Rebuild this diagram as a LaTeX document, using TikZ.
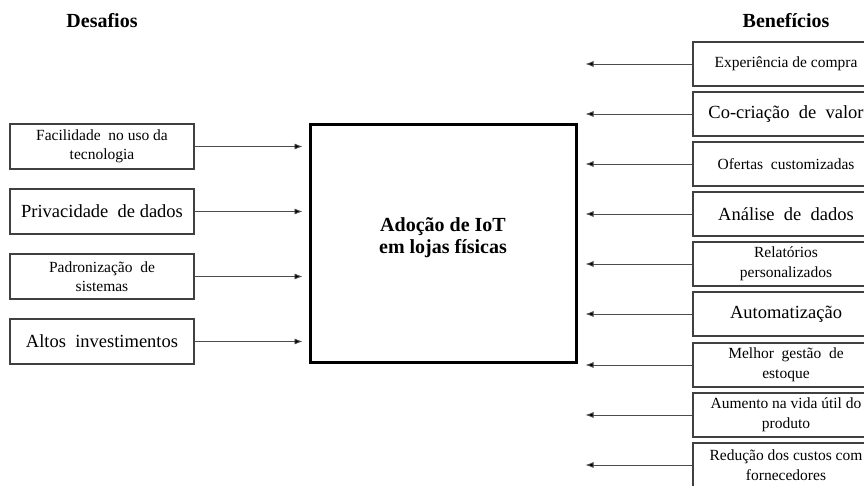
\documentclass[tikz,border=0pt]{standalone}
\usepackage{fontspec}
\setmainfont{Liberation Serif}
\usetikzlibrary{arrows.meta}

\begin{document}
\begin{tikzpicture}[x=1pt,y=-1pt,
    lbox/.style={draw=black!75,line width=1.1pt,minimum width=184pt,minimum height=45pt,align=center,inner sep=1pt},
    rbox/.style={draw=black!75,line width=1.1pt,minimum width=186pt,minimum height=44pt,align=center,inner sep=1pt},
    big/.style={font=\fontsize{18.5}{22}\selectfont},
    mid/.style={font=\fontsize{15.5}{19.5}\selectfont},
    small/.style={font=\fontsize{15.5}{19.5}\selectfont},
    head/.style={font=\fontsize{20}{24}\selectfont\bfseries},
    link/.style={draw=black!70,line width=0.8pt,-{Latex[length=8pt,width=6pt,fill=black]}}]

       \clip (0,0) rectangle (864,486);

       \node[head] (des) at (102, 21) {Desafios};
       \node[head] (ben) at (786, 21) {Benefícios};

       % bloco central
       \node[draw,line width=3pt,minimum width=266pt,minimum height=237pt,
             font=\fontsize{20}{22}\selectfont\bfseries,align=center] (iot) at (443, 243.5)
             {Adoção de IoT\\em lojas físicas\\[-7pt]};

       % desafios
       \node[lbox,small] (d1) at (102, 146.5) {Facilidade~ no uso da\\tecnologia};
       \node[lbox,big]   (d2) at (102, 211.5) {Privacidade~ de dados};
       \node[lbox,small] (d3) at (102, 276.5) {Padronização~ de\\sistemas};
       \node[lbox,big]   (d4) at (102, 341.5) {Altos~ investimentos};

       % beneficios
       \node[rbox,mid]   (b1) at (786, 64)  {Experiência de compra};
       \node[rbox,big]   (b2) at (786, 114) {Co-criação~ de~ valor};
       \node[rbox,small] (b3) at (786, 164) {Ofertas~ customizadas};
       \node[rbox,big]   (b4) at (786, 214) {Análise~ de~ dados};
       \node[rbox,mid]   (b5) at (786, 264) {Relatórios\\personalizados};
       \node[rbox,big]   (b6) at (786, 314) {Automatização};
       \node[rbox,mid]   (b7) at (786, 365) {Melhor~ gestão~ de\\estoque};
       \node[rbox,mid]   (b8) at (786, 415) {Aumento na vida útil do\\produto};
       \node[rbox,mid]   (b9) at (786, 465) {Redução dos custos com\\fornecedores};

       \draw[link,shorten >=6pt] (d1.east) -- (d1.east -| iot.west);
       \draw[link,shorten >=6pt] (d2.east) -- (d2.east -| iot.west);
       \draw[link,shorten >=6pt] (d3.east) -- (d3.east -| iot.west);
       \draw[link,shorten >=6pt] (d4.east) -- (d4.east -| iot.west);

       \draw[link,shorten >=8pt] (b1.west) -- (b1.west -| iot.east);
       \draw[link,shorten >=8pt] (b2.west) -- (b2.west -| iot.east);
       \draw[link,shorten >=8pt] (b3.west) -- (b3.west -| iot.east);
       \draw[link,shorten >=8pt] (b4.west) -- (b4.west -| iot.east);
       \draw[link,shorten >=8pt] (b5.west) -- (b5.west -| iot.east);
       \draw[link,shorten >=8pt] (b6.west) -- (b6.west -| iot.east);
       \draw[link,shorten >=8pt] (b7.west) -- (b7.west -| iot.east);
       \draw[link,shorten >=8pt] (b8.west) -- (b8.west -| iot.east);
       \draw[link,shorten >=8pt] (b9.west) -- (b9.west -| iot.east);
     \end{tikzpicture}
\end{document}
